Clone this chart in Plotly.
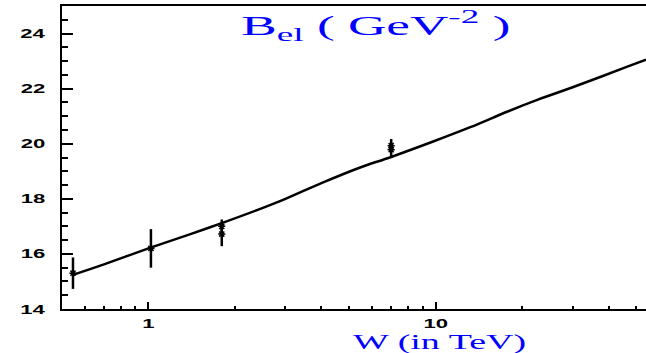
import numpy as np
import plotly.graph_objects as go

# Model curve B_el(W)
curve_w = [0.546, 0.7, 1.0, 1.4, 1.8, 2.4, 3.0, 4.0, 5.4, 7.0, 9.8, 13.2, 17.9, 22.7, 30, 38, 46, 54]
curve_b = [15.24, 15.62, 16.2, 16.72, 17.12, 17.6, 18.0, 18.57, 19.12, 19.52, 20.08, 20.6, 21.18, 21.6, 22.05, 22.45, 22.78, 23.05]

# Data points with errors
data_w = [0.546, 1.02, 1.8, 1.8, 7.0, 7.0]
data_b = [15.3, 16.2, 17.0, 16.72, 19.93, 19.78]
data_err = [0.57, 0.7, 0.25, 0.44, 0.24, 0.27]

x_major = [1, 10]
x_minor = [0.6, 0.7, 0.8, 0.9, 2, 3, 4, 5, 6, 7, 8, 9, 20, 30, 40, 50]
y_major = [14, 16, 18, 20, 22, 24]
y_minor = [v / 2 for v in range(28, 51)]

fig = go.Figure()
fig.add_trace(go.Scatter(
    x=curve_w, y=curve_b, mode="lines",
    line=dict(color="black", width=2.5, shape="spline"),
    showlegend=False, hoverinfo="skip"))
fig.add_trace(go.Scatter(
    x=data_w, y=data_b, mode="markers",
    marker=dict(symbol="asterisk-open", size=6, color="black",
                line=dict(color="black", width=1.5)),
    error_y=dict(type="data", array=data_err, visible=True,
                 color="black", thickness=2.5, width=0),
    showlegend=False))

tickfont = dict(family="Liberation Sans", size=13, color="black")

fig.update_layout(
    width=646, height=353,
    margin=dict(l=62, r=0, t=6, b=44, autoexpand=False),
    paper_bgcolor="white", plot_bgcolor="white",
    font=dict(family="Liberation Sans"),
    xaxis=dict(
        type="log", automargin=False,
        range=[np.log10(0.5), np.log10(54)],
        showline=True, linecolor="black", linewidth=2, mirror=True,
        showgrid=False, zeroline=False,
        ticks="inside", ticklen=7, tickwidth=1.5, tickcolor="black",
        tickmode="array", tickvals=x_major,
        ticktext=["<b>%d</b>" % v for v in x_major],
        tickfont=tickfont, ticklabelstandoff=1,
        minor=dict(ticks="inside", ticklen=3, tickwidth=1.5, tickcolor="black",
                   tickmode="array", tickvals=x_minor, showgrid=False),
    ),
    yaxis=dict(
        range=[14, 25], automargin=False,
        showline=True, linecolor="black", linewidth=2, mirror=False,
        showgrid=False, zeroline=False,
        ticks="inside", ticklen=11, tickwidth=1.5, tickcolor="black",
        tickmode="array", tickvals=y_major,
        ticktext=["<b>%d</b>" % v for v in y_major],
        tickfont=tickfont, ticklabelstandoff=12,
        minor=dict(ticks="inside", ticklen=6, tickwidth=1.5, tickcolor="black",
                   tickmode="array", tickvals=y_minor, showgrid=False),
    ),
    annotations=[
        dict(text="B<sub>el</sub> ( GeV<sup>-2</sup> )",
             xref="paper", yref="paper", x=0.538, y=0.935,
             xanchor="center", yanchor="middle", showarrow=False,
             font=dict(family="Liberation Serif", size=28, color="#0000ff")),
        dict(text="W (in TeV)",
             xref="paper", yref="paper", x=0.647, y=-0.112,
             xanchor="center", yanchor="middle", showarrow=False,
             font=dict(family="Liberation Serif", size=20, color="#0000ff")),
    ],
)

# Remove the page margin, and widen the real SVG text as in the reference lettering.
post = """
document.documentElement.style.margin = '0';
document.body.style.margin = '0';
document.body.style.overflow = 'hidden';
var gd = document.getElementById('{plot_id}');
function stretch(el, sx, anchor) {
  var b = el.getBBox();
  var cx = anchor === 'end' ? b.x + b.width : b.x + b.width / 2;
  var t = el.getAttribute('transform') || '';
  el.setAttribute('transform', t + ' translate(' + cx + ',0) scale(' + sx + ',1) translate(' + (-cx) + ',0)');
}
gd.querySelectorAll('.ytick text').forEach(function (e) { stretch(e, 1.7, 'end'); });
gd.querySelectorAll('.xtick text').forEach(function (e) { stretch(e, 1.7, 'mid'); });
var anns = gd.querySelectorAll('text.annotation-text');
if (anns.length > 0) stretch(anns[0], 1.9, 'mid');
if (anns.length > 1) stretch(anns[1], 1.9, 'mid');
"""

fig.write_html("out.html", post_script=post, config={"displayModeBar": False})
